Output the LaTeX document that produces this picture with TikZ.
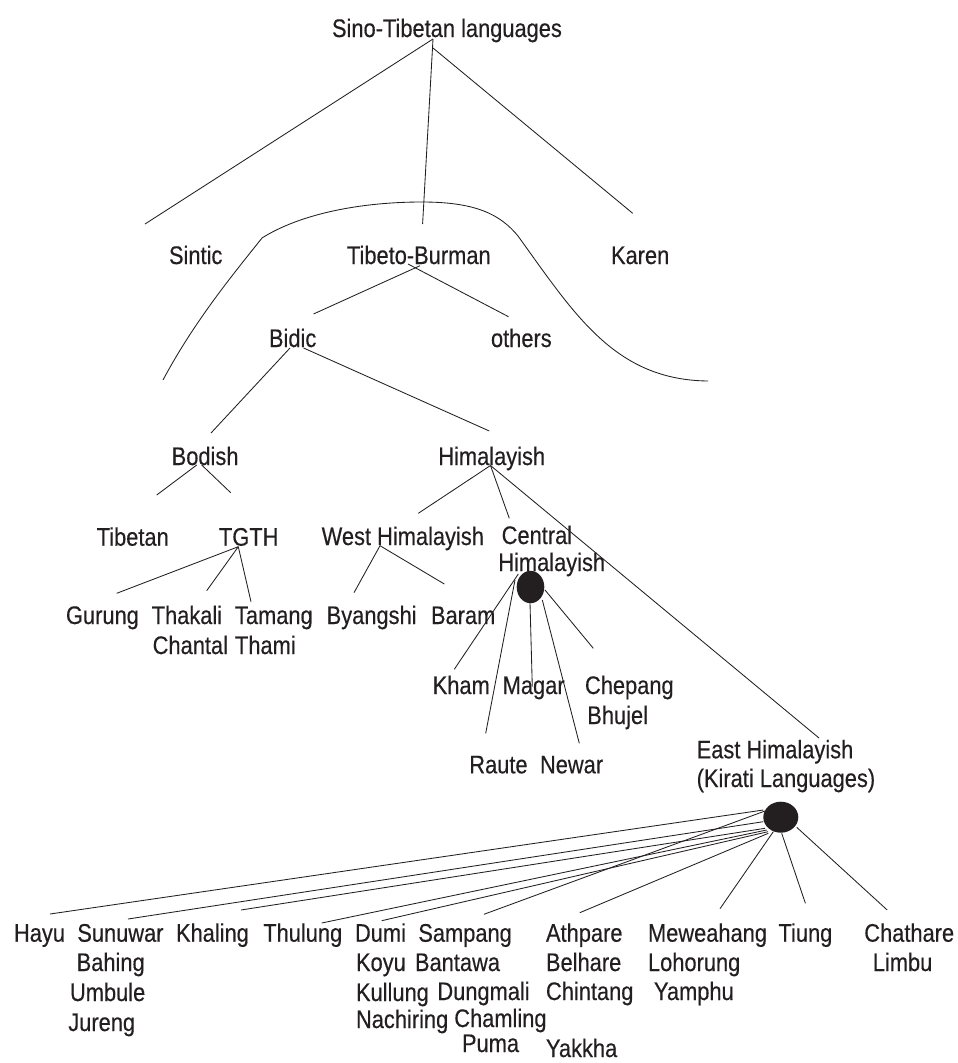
\documentclass[tikz,border=0pt]{standalone}
\usepackage{fontspec}
\setmainfont{Liberation Sans}[FakeStretch=0.86,FakeBold=0.35]
\usetikzlibrary{shapes.geometric}
\definecolor{ink}{HTML}{231F20}
\newcommand\lblfont{\fontsize{25.4}{30}\selectfont}
\begin{document}
\begin{tikzpicture}[x=1pt,y=-1pt,
  lbl/.style={anchor=base west, inner sep=0pt, outer sep=0pt, text=ink, font=\lblfont},
  link/.style={draw=ink, line width=0.85pt},
  hub/.style={ellipse, fill=ink, draw=none, inner sep=0pt}]
\useasboundingbox (0,0) rectangle (958,1063);

% ---------- labels ----------
\node[lbl] (st) at (332,37) {Sino-Tibetan languages};
\node[lbl] (sintic) at (169,264) {Sintic};
\node[lbl] (tb) at (347,264) {Tibeto-Burman};
\node[lbl] (karen) at (611,264) {Karen};
\node[lbl] (bidic) at (269,347) {Bidic};
\node[lbl] (others) at (491,347) {others};
\node[lbl] (bodish) at (171.7,465) {Bodish};
\node[lbl] (himal) at (438.3,465) {Himalayish};
\node[lbl] (tibetan) at (96.7,545.7) {Tibetan};
\node[lbl] (tgth) at (219,545.7) {TGTH};
\node[lbl] (westh) at (321.7,545) {West Himalayish};
\node[lbl] (centralA) at (501.7,544) {Central};
\node[lbl] (centralB) at (498.3,571) {Himalayish};
\node[lbl] (gurung) at (66,624) {Gurung};
\node[lbl] (thakali) at (151.7,624) {Thakali};
\node[lbl] (tamang) at (235,624) {Tamang};
\node[lbl] (byangshi) at (326.7,624) {Byangshi};
\node[lbl] (baram) at (431,624) {Baram};
\node[lbl] (chantal) at (152.7,654) {Chantal};
\node[lbl] (thami) at (235,654) {Thami};
\node[lbl] (kham) at (432.7,694) {Kham};
\node[lbl] (magar) at (502.7,694) {Magar};
\node[lbl] (chepang) at (585,694) {Chepang};
\node[lbl] (bhujel) at (587.3,724) {Bhujel};
\node[lbl] (raute) at (469.3,773.3) {Raute};
\node[lbl] (newar) at (540,773.3) {Newar};
\node[lbl] (eastA) at (696.7,758.3) {East Himalayish};
\node[lbl] (eastB) at (696.7,787) {(Kirati Languages)};

% Kirati languages, first row
\node[lbl] (hayu) at (14,941.7) {Hayu};
\node[lbl] (sunuwar) at (77.3,941.7) {Sunuwar};
\node[lbl] (khaling) at (176,941.7) {Khaling};
\node[lbl] (thulung) at (263.3,941.7) {Thulung};
\node[lbl] (dumi) at (355,941.7) {Dumi};
\node[lbl] (sampang) at (418.3,941.7) {Sampang};
\node[lbl] (athpare) at (546,941.7) {Athpare};
\node[lbl] (meweahang) at (648,941.7) {Meweahang};
\node[lbl] (tiung) at (778.5,941.7) {Tiung};
\node[lbl] (chathare) at (864.3,941.7) {Chathare};
% further rows
\node[lbl] (bahing) at (76.7,971) {Bahing};
\node[lbl] (koyu) at (356,971) {Koyu};
\node[lbl] (bantawa) at (415,971) {Bantawa};
\node[lbl] (belhare) at (546,971) {Belhare};
\node[lbl] (lohorung) at (648,971) {Lohorung};
\node[lbl] (limbu) at (872.8,971) {Limbu};
\node[lbl] (umbule) at (70,1001) {Umbule};
\node[lbl] (kullung) at (356,1001) {Kullung};
\node[lbl] (dungmali) at (437.4,1000) {Dungmali};
\node[lbl] (chintang) at (546,1000) {Chintang};
\node[lbl] (yamphu) at (654,1000) {Yamphu};
\node[lbl] (jureng) at (68.3,1031) {Jureng};
\node[lbl] (nachiring) at (356,1028) {Nachiring};
\node[lbl] (chamling) at (454.3,1027) {Chamling};
\node[lbl] (puma) at (462,1052) {Puma};
\node[lbl] (yakkha) at (546,1057) {Yakkha};

% ---------- hubs ----------
\node[hub, minimum width=27.6pt, minimum height=32.4pt] (chub) at (530.5,587) {};
\node[hub, minimum width=35pt, minimum height=31pt] (ehub) at (780.8,817.2) {};

% ---------- attachment points ----------
\coordinate (st-a) at (433,39);
\coordinate (st-b) at (433,48);
\coordinate (sintic-t) at (145,224);
\coordinate (tb-t) at (422.6,224);
\coordinate (karen-t) at (632.7,213.3);
\coordinate (tb-b1) at (420,265.7);
\coordinate (tb-b2) at (408,264);
\coordinate (bidic-t) at (313.5,314);
\coordinate (others-t) at (508.5,316.7);
\coordinate (bidic-b1) at (290,348);
\coordinate (bidic-b2) at (303.6,348);
\coordinate (bodish-t) at (211,433);
\coordinate (himal-t) at (489.3,431);
\coordinate (bodish-b1) at (196.7,465);
\coordinate (bodish-b2) at (201.7,465);
\coordinate (tibetan-t) at (156.7,495);
\coordinate (tgth-t) at (230.7,492.7);
\coordinate (tgth-b) at (238.3,546.7);
\coordinate (gurung-t) at (116.7,593.3);
\coordinate (thakali-t) at (206.7,590.7);
\coordinate (tamang-t) at (251,601.7);
\coordinate (himal-b) at (490.5,465.5);
\coordinate (westh-t) at (418.3,513.3);
\coordinate (central-t) at (509.3,518.3);
\coordinate (east-t) at (819,738);
\coordinate (westh-b) at (380,545.7);
\coordinate (byangshi-t) at (354,592.7);
\coordinate (baram-t) at (444.3,584);
% central hub spokes
\coordinate (kham-t) at (454.3,669.3);
\coordinate (raute-t) at (485.7,733.3);
\coordinate (magar-t) at (532.3,686.7);
\coordinate (newar-t) at (579.3,743.3);
\coordinate (chepang-t) at (593.3,648.3);
% east hub spokes
\coordinate (hayu-t) at (50,914);
\coordinate (sunuwar-t) at (128,919);
\coordinate (khaling-t) at (241,910);
\coordinate (thulung-t) at (321.7,923);
\coordinate (dumi-t) at (381.7,920.7);
\coordinate (sampang-t) at (483.9,914.3);
\coordinate (athpare-t) at (579.8,912.7);
\coordinate (meweahang-t) at (720,908.7);
\coordinate (tiung-t) at (805.4,903.3);
\coordinate (chathare-t) at (887.2,910);

% ---------- connectors ----------
\draw[link] (st-a) -- (sintic-t);
\draw[link] (st-a) -- (tb-t);
\draw[link] (st-b) -- (karen-t);
\draw[link] (tb-b1) -- (bidic-t);
\draw[link] (tb-b2) -- (others-t);
\draw[link] (bidic-b1) -- (bodish-t);
\draw[link] (bidic-b2) -- (himal-t);
\draw[link] (bodish-b1) -- (tibetan-t);
\draw[link] (bodish-b2) -- (tgth-t);
\draw[link] (tgth-b) -- (gurung-t);
\draw[link] (tgth-b) -- (thakali-t);
\draw[link] (tgth-b) -- (tamang-t);
\draw[link] (himal-b) -- (westh-t);
\draw[link] (himal-b) -- (central-t);
\draw[link] (himal-b) -- (east-t);
\draw[link] (westh-b) -- (byangshi-t);
\draw[link] (westh-b) -- (baram-t);

\draw[link] (518.3,574) -- (kham-t);
\draw[link] (515,580) -- (raute-t);
\draw[link] (530,602.7) -- (magar-t);
\draw[link] (542.3,600) -- (newar-t);
\draw[link] (545,590) -- (chepang-t);

\draw[link] (763.3,810) -- (hayu-t);
\draw[link] (763.3,821.7) -- (sunuwar-t);
\draw[link] (765,828.3) -- (khaling-t);
\draw[link] (766.7,830) -- (thulung-t);
\draw[link] (768,831.7) -- (dumi-t);
\draw[link] (765,811) -- (sampang-t);
\draw[link] (768.3,833.3) -- (athpare-t);
\draw[link] (773.3,831.7) -- (meweahang-t);
\draw[link] (781.7,833.3) -- (tiung-t);
\draw[link] (796.7,827.3) -- (chathare-t);

% ---------- Tibeto-Burman enclosure ----------
\draw[link] (163,380) .. controls (195,320) and (235,272) .. (262,238)
  .. controls (300,214) and (360,202) .. (422,202)
  .. controls (475,202) and (500,214) .. (518,236)
  .. controls (575,315) and (615,380) .. (708,381);
\end{tikzpicture}
\end{document}
